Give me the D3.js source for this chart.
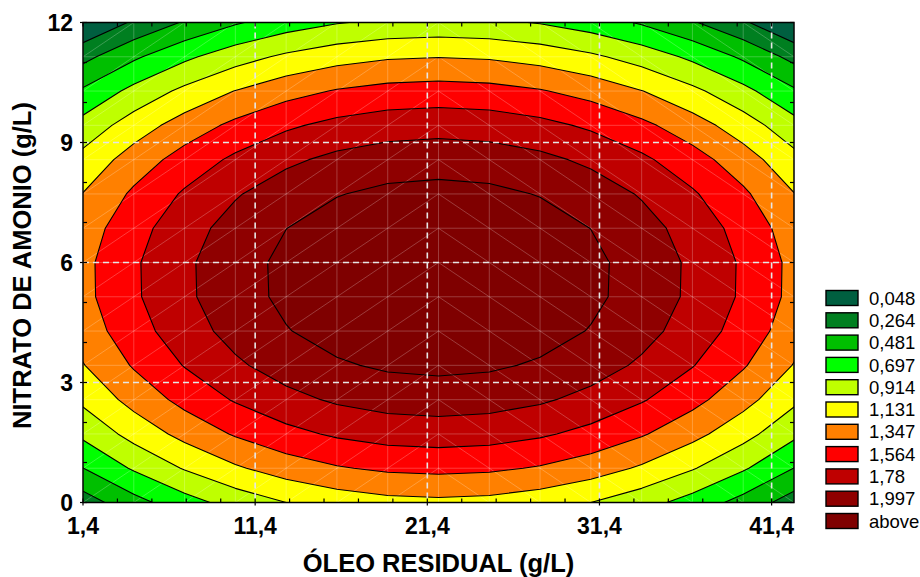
<!DOCTYPE html>
<html>
<head>
<meta charset="utf-8">
<script src="https://cdn.jsdelivr.net/npm/d3@7"></script>
<style>
  html, body { margin: 0; padding: 0; background: #ffffff; }
  svg { display: block; font-family: "Liberation Sans", Arial, sans-serif; }
</style>
</head>
<body>
<svg id="chart" width="920" height="577"></svg>
<script>
// Response surface sampled on a 15 x 15 mesh (Óleo residual x Nitrato de amonio)
const xGrid = [1.4, 4.35, 7.3, 10.25, 13.2, 16.15, 19.1, 22.05, 25.0, 27.95, 30.9, 33.85, 36.8, 39.75, 42.7];
const yGrid = [0, 0.857, 1.714, 2.571, 3.429, 4.286, 5.143, 6, 6.857, 7.714, 8.571, 9.429, 10.286, 11.143, 12];

// one row per yGrid value (bottom to top), one column per xGrid value
const zRows = [
  [0.158, 0.404, 0.611, 0.782, 0.914, 1.008, 1.065, 1.084, 1.065, 1.008, 0.914, 0.782, 0.611, 0.404, 0.158],
  [0.478, 0.724, 0.931, 1.102, 1.234, 1.328, 1.385, 1.404, 1.385, 1.328, 1.234, 1.102, 0.931, 0.724, 0.478],
  [0.745, 0.991, 1.198, 1.369, 1.501, 1.595, 1.652, 1.671, 1.652, 1.595, 1.501, 1.369, 1.198, 0.991, 0.745],
  [0.960, 1.206, 1.413, 1.584, 1.716, 1.810, 1.867, 1.886, 1.867, 1.810, 1.716, 1.584, 1.413, 1.206, 0.960],
  [1.121, 1.367, 1.574, 1.745, 1.877, 1.971, 2.028, 2.047, 2.028, 1.971, 1.877, 1.745, 1.574, 1.367, 1.121],
  [1.230, 1.476, 1.683, 1.854, 1.986, 2.080, 2.137, 2.156, 2.137, 2.080, 1.986, 1.854, 1.683, 1.476, 1.230],
  [1.286, 1.532, 1.739, 1.910, 2.042, 2.136, 2.193, 2.212, 2.193, 2.136, 2.042, 1.910, 1.739, 1.532, 1.286],
  [1.289, 1.535, 1.742, 1.913, 2.045, 2.139, 2.196, 2.215, 2.196, 2.139, 2.045, 1.913, 1.742, 1.535, 1.289],
  [1.239, 1.485, 1.692, 1.863, 1.995, 2.089, 2.146, 2.165, 2.146, 2.089, 1.995, 1.863, 1.692, 1.485, 1.239],
  [1.137, 1.383, 1.590, 1.761, 1.893, 1.987, 2.044, 2.063, 2.044, 1.987, 1.893, 1.761, 1.590, 1.383, 1.137],
  [0.982, 1.228, 1.435, 1.606, 1.738, 1.832, 1.889, 1.908, 1.889, 1.832, 1.738, 1.606, 1.435, 1.228, 0.982],
  [0.774, 1.020, 1.227, 1.398, 1.530, 1.624, 1.681, 1.700, 1.681, 1.624, 1.530, 1.398, 1.227, 1.020, 0.774],
  [0.513, 0.759, 0.966, 1.137, 1.269, 1.363, 1.420, 1.439, 1.420, 1.363, 1.269, 1.137, 0.966, 0.759, 0.513],
  [0.199, 0.445, 0.652, 0.823, 0.955, 1.049, 1.106, 1.125, 1.106, 1.049, 0.955, 0.823, 0.652, 0.445, 0.199],
  [-0.167, 0.079, 0.286, 0.457, 0.589, 0.683, 0.740, 0.759, 0.740, 0.683, 0.589, 0.457, 0.286, 0.079, -0.167]
];

// contour levels and the colour of each band (band label = its upper bound)
const levels = [0.048, 0.264, 0.481, 0.697, 0.914, 1.131, 1.347, 1.564, 1.78, 1.997];
const levelLabels = ["0,048", "0,264", "0,481", "0,697", "0,914", "1,131", "1,347", "1,564", "1,78", "1,997", "above"];
const levelColors = ["#005f40", "#007f20", "#00bf00", "#00ff00", "#bfff00", "#ffff00", "#ff8000", "#ff0000", "#bf0000", "#8f0000", "#7f0000"];

const xTicks = [1.4, 11.4, 21.4, 31.4, 41.4];
const yTicks = [0, 3, 6, 9, 12];
const xMinorTicks = [3.4, 5.4, 7.4, 9.4, 13.4, 15.4, 17.4, 19.4, 23.4, 25.4, 27.4, 29.4, 33.4, 35.4, 37.4, 39.4];
const yMinorTicks = [1, 2, 4, 5, 7, 8, 10, 11];

const xTitle = "ÓLEO RESIDUAL (g/L)";
const yTitle = "NITRATO DE AMONIO (g/L)";

// ---- layout
const plot = { left: 83, right: 794, top: 22.5, bottom: 502.5 };
const svg = d3.select("#chart");

const x = d3.scaleLinear([xGrid[0], xGrid[xGrid.length - 1]], [plot.left, plot.right]);
const y = d3.scaleLinear([yGrid[0], yGrid[yGrid.length - 1]], [plot.bottom, plot.top]);

const nx = xGrid.length, ny = yGrid.length;
// d3.contours places sample i at grid coordinate i + 0.5
const gx = d3.scaleLinear([0.5, nx - 0.5], [xGrid[0], xGrid[nx - 1]]);
const gy = d3.scaleLinear([0.5, ny - 0.5], [yGrid[0], yGrid[ny - 1]]);

const values = zRows.flat();
const contourGen = d3.contours().size([nx, ny]).thresholds(levels);
const bands = contourGen(values);

const projection = d3.geoTransform({
  point: function (cx, cy) { this.stream.point(x(gx(cx)), y(gy(cy))); }
});
const path = d3.geoPath(projection);

svg.append("defs").append("clipPath").attr("id", "plotClip")
  .append("rect")
  .attr("x", plot.left).attr("y", plot.top)
  .attr("width", plot.right - plot.left).attr("height", plot.bottom - plot.top);

const body = svg.append("g").attr("clip-path", "url(#plotClip)");

// lowest band fills the whole area
body.append("rect")
  .attr("x", plot.left).attr("y", plot.top)
  .attr("width", plot.right - plot.left).attr("height", plot.bottom - plot.top)
  .attr("fill", levelColors[0]);

body.selectAll("path.band")
  .data(bands)
  .join("path")
  .attr("class", "band")
  .attr("d", path)
  .attr("fill", (d, i) => levelColors[i + 1])
  .attr("stroke", "none");

// triangulated mesh
const mesh = body.append("g")
  .attr("stroke", "#ffffff").attr("stroke-opacity", 0.26).attr("stroke-width", 0.9).attr("fill", "none");
xGrid.forEach(v => mesh.append("line").attr("x1", x(v)).attr("x2", x(v)).attr("y1", plot.top).attr("y2", plot.bottom));
yGrid.forEach(v => mesh.append("line").attr("y1", y(v)).attr("y2", y(v)).attr("x1", plot.left).attr("x2", plot.right));
const mid = Math.floor((nx - 1) / 2);
for (let i = 0; i < nx - 1; i++) {
  for (let j = 0; j < ny - 1; j++) {
    if (i < mid) {
      mesh.append("line").attr("x1", x(xGrid[i])).attr("y1", y(yGrid[j]))
        .attr("x2", x(xGrid[i + 1])).attr("y2", y(yGrid[j + 1]));
    } else {
      mesh.append("line").attr("x1", x(xGrid[i])).attr("y1", y(yGrid[j + 1]))
        .attr("x2", x(xGrid[i + 1])).attr("y2", y(yGrid[j]));
    }
  }
}

// contour lines
body.selectAll("path.iso")
  .data(bands)
  .join("path")
  .attr("class", "iso")
  .attr("d", path)
  .attr("fill", "none")
  .attr("stroke", "#000000")
  .attr("stroke-width", 1.1)
  .attr("stroke-linejoin", "round");

// dashed reference grid
const grid = svg.append("g")
  .attr("stroke", "#e6e6e6").attr("stroke-width", 1.6).attr("stroke-dasharray", "6,4");
xTicks.slice(1).forEach(v => grid.append("line").attr("x1", x(v)).attr("x2", x(v)).attr("y1", plot.top).attr("y2", plot.bottom));
yTicks.slice(1, -1).forEach(v => grid.append("line").attr("y1", y(v)).attr("y2", y(v)).attr("x1", plot.left).attr("x2", plot.right));

// frame
svg.append("rect")
  .attr("x", plot.left).attr("y", plot.top)
  .attr("width", plot.right - plot.left).attr("height", plot.bottom - plot.top)
  .attr("fill", "none").attr("stroke", "#000").attr("stroke-width", 1.5);

// ticks on all four sides
const ticks = svg.append("g").attr("stroke", "#000").attr("stroke-width", 1.2);
xTicks.concat(xMinorTicks).forEach(v => {
  ticks.append("line").attr("x1", x(v)).attr("x2", x(v)).attr("y1", plot.bottom).attr("y2", plot.bottom - 4);
  ticks.append("line").attr("x1", x(v)).attr("x2", x(v)).attr("y1", plot.top).attr("y2", plot.top + 4);
});
yTicks.concat(yMinorTicks).forEach(v => {
  ticks.append("line").attr("y1", y(v)).attr("y2", y(v)).attr("x1", plot.left).attr("x2", plot.left + 4);
  ticks.append("line").attr("y1", y(v)).attr("y2", y(v)).attr("x1", plot.right).attr("x2", plot.right - 4);
});
xTicks.forEach(v => ticks.append("line").attr("x1", x(v)).attr("x2", x(v)).attr("y1", plot.bottom).attr("y2", plot.bottom + 3));
yTicks.forEach(v => ticks.append("line").attr("y1", y(v)).attr("y2", y(v)).attr("x1", plot.left).attr("x2", plot.left - 3));

// tick labels
const fmt = v => d3.format(".1f")(v).replace(".", ",");
svg.append("g").selectAll("text")
  .data(xTicks).join("text")
  .attr("x", d => x(d)).attr("y", 534)
  .attr("text-anchor", "middle")
  .attr("font-size", 23).attr("font-weight", "bold")
  .text(d => fmt(d));

svg.append("g").selectAll("text")
  .data(yTicks).join("text")
  .attr("x", 73).attr("y", d => y(d))
  .attr("dy", "0.36em")
  .attr("text-anchor", "end")
  .attr("font-size", 23).attr("font-weight", "bold")
  .text(d => d3.format("d")(d));

// axis titles
svg.append("text")
  .attr("x", (plot.left + plot.right) / 2).attr("y", 572)
  .attr("text-anchor", "middle")
  .attr("font-size", 25.5).attr("font-weight", "bold")
  .text(xTitle);

svg.append("text")
  .attr("transform", `translate(31,${(plot.top + plot.bottom) / 2 + 3}) rotate(-90)`)
  .attr("text-anchor", "middle")
  .attr("font-size", 25.5).attr("font-weight", "bold")
  .text(yTitle);

// legend
const legend = svg.append("g").attr("transform", "translate(826,290.5)");
const rows = legend.selectAll("g").data(levelLabels).join("g")
  .attr("transform", (d, i) => `translate(0,${i * 22.3})`);
rows.append("rect")
  .attr("width", 32).attr("height", 15)
  .attr("fill", (d, i) => levelColors[i])
  .attr("stroke", "#000").attr("stroke-width", 1.4);
rows.append("text")
  .attr("x", 43).attr("y", 7.5).attr("dy", "0.36em")
  .attr("font-size", 18.5)
  .text(d => d);
</script>
</body>
</html>
